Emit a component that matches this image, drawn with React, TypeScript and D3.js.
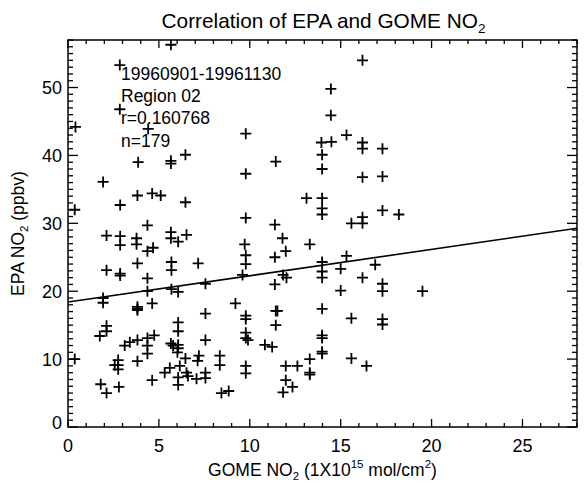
import { useEffect, useRef } from "react";
import * as d3 from "d3";

// ---------------------------------------------------------------------------
// Data (GOME NO2 vs EPA NO2)
// ---------------------------------------------------------------------------

const GOME_X = [
  5.66, 2.85, 2.85, 0.41, 4.41, 3.86, 5.66, 5.66, 6.46, 16.2,
  14.46, 14.46, 9.78, 15.32, 13.94, 14.49, 16.2, 16.2, 17.3, 13.98,
  11.43, 13.98, 9.78, 16.2, 17.3, 1.93, 3.82, 4.63, 5.1, 6.46,
  2.87, 0.37, 13.12, 13.98, 13.98, 13.98, 17.3, 18.2, 4.37, 9.78,
  11.38, 15.59, 16.2, 16.2, 2.12, 2.87, 2.87, 3.77, 3.77, 4.37,
  4.68, 5.66, 5.66, 6.06, 6.52, 11.8, 13.3, 9.72, 9.78, 9.78,
  11.38, 11.98, 2.12, 2.87, 3.82, 4.37, 5.69, 5.69, 7.16, 9.6,
  13.98, 13.98, 13.98, 15.0, 15.32, 16.9, 11.83, 12.02, 11.38, 16.2,
  15.0, 17.3, 17.3, 19.5, 4.37, 5.69, 6.06, 7.56, 1.93, 1.93,
  4.63, 3.82, 3.82, 7.56, 9.21, 6.06, 6.06, 2.12, 2.12, 1.75,
  7.56, 4.74, 4.37, 4.37, 4.37, 3.82, 3.4, 3.12, 5.78, 6.06,
  6.06, 6.02, 0.37, 2.76, 2.76, 2.57, 2.76, 3.82, 6.46, 7.2,
  7.13, 8.35, 8.35, 6.15, 5.6, 5.32, 6.52, 6.6, 6.06, 6.06,
  7.07, 7.56, 7.56, 4.63, 1.8, 2.12, 2.8, 8.44, 9.78, 9.78,
  11.43, 11.52, 11.43, 13.98, 15.59, 17.3, 17.3, 9.78, 9.78, 9.9,
  10.83, 11.23, 13.98, 13.98, 13.98, 13.98, 9.78, 9.78, 11.98, 12.62,
  13.3, 13.3, 13.3, 15.59, 16.42, 11.98, 12.35, 11.83, 8.84, 2.87,
  3.82, 5.66,
];

const EPA_Y = [
  56.3, 53.3, 46.8, 44.2, 43.9, 39.0, 39.2, 38.8, 40.1, 54.0,
  49.8, 45.9, 43.2, 43.0, 41.9, 42.0, 41.9, 41.0, 41.0, 40.1,
  39.1, 38.0, 37.3, 36.8, 36.9, 36.1, 34.1, 34.4, 34.1, 33.1,
  32.7, 32.0, 33.7, 33.7, 32.2, 31.3, 31.9, 31.3, 29.7, 30.8,
  29.8, 30.0, 30.9, 30.0, 28.2, 28.1, 26.8, 27.8, 26.9, 25.9,
  26.4, 28.7, 27.8, 27.3, 28.3, 27.8, 26.9, 26.9, 25.3, 24.0,
  25.0, 25.9, 23.1, 22.3, 24.1, 21.9, 24.3, 23.1, 24.1, 22.4,
  24.3, 22.9, 22.0, 23.3, 25.2, 23.9, 22.4, 22.0, 21.0, 22.0,
  20.1, 21.1, 20.0, 20.0, 20.0, 20.3, 19.9, 21.1, 19.0, 18.3,
  18.2, 17.7, 17.2, 16.7, 18.2, 15.4, 14.1, 14.9, 14.1, 13.4,
  12.8, 13.5, 13.1, 12.0, 10.8, 12.8, 12.5, 12.0, 12.0, 12.1,
  11.6, 11.0, 10.0, 9.85, 9.1, 9.1, 8.5, 9.7, 10.1, 10.5,
  9.75, 10.5, 9.1, 9.0, 8.7, 8.0, 8.0, 7.5, 7.3, 6.2,
  7.1, 8.0, 7.2, 6.9, 6.3, 5.0, 5.9, 5.0, 16.4, 15.9,
  17.1, 17.1, 15.0, 17.4, 16.0, 15.9, 15.1, 13.9, 13.1, 12.8,
  12.1, 11.8, 13.5, 13.1, 11.1, 10.8, 9.0, 7.9, 9.0, 9.0,
  10.0, 8.0, 7.7, 10.1, 9.0, 6.9, 5.9, 5.1, 5.3, 22.6,
  17.4, 12.3,
];

// least-squares fit drawn in the reference
const FIT_INTERCEPT = 18.4;
const FIT_SLOPE = 0.388;

const X_DOMAIN = [0, 28];
const Y_DOMAIN = [0, 57];
const X_MAJOR = [0, 5, 10, 15, 20, 25];
const Y_MAJOR = [0, 10, 20, 30, 40, 50];

const ANNOTATION = ["19960901-19961130", "Region 02", "r=0.160768", "n=179"];

const FONT = "'Liberation Sans', Arial, Helvetica, sans-serif";

export default function App() {
  const svgRef = useRef<SVGSVGElement>(null);

  useEffect(() => {
    const svg = d3.select(svgRef.current);
    svg.selectAll("*").remove();

    const width = 588;
    const height = 486;
    const margin = { left: 68, right: 11, top: 40, bottom: 59 };
    const x0 = margin.left;
    const x1 = width - margin.right;
    const y0 = height - margin.bottom;
    const y1 = margin.top;

    const x = d3.scaleLinear().domain(X_DOMAIN).range([x0, x1]);
    const y = d3.scaleLinear().domain(Y_DOMAIN).range([y0, y1]);

    const g = svg.append("g");

    svg
      .append("defs")
      .append("clipPath")
      .attr("id", "plot-clip")
      .append("rect")
      .attr("x", x0)
      .attr("y", y1)
      .attr("width", x1 - x0)
      .attr("height", y0 - y1);

    // ---- Frame ----
    g.append("rect")
      .attr("x", x0)
      .attr("y", y1)
      .attr("width", x1 - x0)
      .attr("height", y0 - y1)
      .attr("fill", "none")
      .attr("stroke", "#000")
      .attr("stroke-width", 1.5);

    // ---- X ticks (bottom + top) ----
    const xMinor = d3.range(X_DOMAIN[0], X_DOMAIN[1] + 0.001, 1);
    xMinor.forEach((v) => {
      const major = X_MAJOR.includes(v);
      const len = major ? 8 : 4;
      g.append("line")
        .attr("x1", x(v)).attr("x2", x(v))
        .attr("y1", y0).attr("y2", y0 - len)
        .attr("stroke", "#000").attr("stroke-width", 1.3);
      g.append("line")
        .attr("x1", x(v)).attr("x2", x(v))
        .attr("y1", y1).attr("y2", y1 + len)
        .attr("stroke", "#000").attr("stroke-width", 1.3);
    });

    X_MAJOR.forEach((v) => {
      g.append("text")
        .attr("x", x(v))
        .attr("y", y0 + 25)
        .attr("text-anchor", "middle")
        .attr("font-family", FONT)
        .attr("font-size", 18)
        .text(String(v));
    });

    // ---- Y ticks (left + right) ----
    const yMinor = d3.range(Y_DOMAIN[0], Y_DOMAIN[1] + 0.001, 1);
    yMinor.forEach((v) => {
      const major = Y_MAJOR.includes(v);
      const len = major ? 10 : 5;
      g.append("line")
        .attr("x1", x0).attr("x2", x0 + len)
        .attr("y1", y(v)).attr("y2", y(v))
        .attr("stroke", "#000").attr("stroke-width", 1.3);
      g.append("line")
        .attr("x1", x1).attr("x2", x1 - len)
        .attr("y1", y(v)).attr("y2", y(v))
        .attr("stroke", "#000").attr("stroke-width", 1.3);
    });

    Y_MAJOR.forEach((v) => {
      // bottom label sits a little above the corner, as in the original
      const ty = Math.min(y(v), y0 - 5);
      g.append("text")
        .attr("x", x0 - 6)
        .attr("y", ty + 6.5)
        .attr("text-anchor", "end")
        .attr("font-family", FONT)
        .attr("font-size", 18)
        .text(String(v));
    });

    // ---- Points ----
    const plot = g.append("g").attr("clip-path", "url(#plot-clip)");
    const s = 5.5;
    GOME_X.forEach((gx, i) => {
      const px = x(gx);
      const py = y(EPA_Y[i]);
      plot
        .append("path")
        .attr("d", `M${px - s},${py}H${px + s}M${px},${py - s}V${py + s}`)
        .attr("stroke", "#000")
        .attr("stroke-width", 1.8)
        .attr("fill", "none");
    });

    // ---- Fit line ----
    plot
      .append("line")
      .attr("x1", x(X_DOMAIN[0]))
      .attr("y1", y(FIT_INTERCEPT + FIT_SLOPE * X_DOMAIN[0]))
      .attr("x2", x(X_DOMAIN[1]))
      .attr("y2", y(FIT_INTERCEPT + FIT_SLOPE * X_DOMAIN[1]))
      .attr("stroke", "#000")
      .attr("stroke-width", 1.6);

    // ---- Annotation ----
    ANNOTATION.forEach((t, i) => {
      g.append("text")
        .attr("x", 121)
        .attr("y", 80 + i * 22.2)
        .attr("font-family", FONT)
        .attr("font-size", 17.5)
        .text(t);
    });

    // ---- Title ----
    const title = g
      .append("text")
      .attr("x", (x0 + x1) / 2 + 1)
      .attr("y", 28)
      .attr("text-anchor", "middle")
      .attr("font-family", FONT)
      .attr("font-size", 20.8);
    title.append("tspan").text("Correlation of EPA and GOME NO");
    title.append("tspan").attr("dy", 5).attr("font-size", 13.5).text("2");

    // ---- X label ----
    const xl = g
      .append("text")
      .attr("x", (x0 + x1) / 2)
      .attr("y", 476)
      .attr("text-anchor", "middle")
      .attr("font-family", FONT)
      .attr("font-size", 17.5);
    xl.append("tspan").text("GOME NO");
    xl.append("tspan").attr("dy", 4).attr("font-size", 11.5).text("2");
    xl.append("tspan").attr("dy", -4).text(" (1X10");
    xl.append("tspan").attr("dy", -8).attr("font-size", 11.5).text("15");
    xl.append("tspan").attr("dy", 8).text(" mol/cm");
    xl.append("tspan").attr("dy", -8).attr("font-size", 11.5).text("2");
    xl.append("tspan").attr("dy", 8).text(")");

    // ---- Y label ----
    const yl = g
      .append("text")
      .attr("transform", `translate(24,${(y0 + y1) / 2}) rotate(-90)`)
      .attr("text-anchor", "middle")
      .attr("font-family", FONT)
      .attr("font-size", 17.5);
    yl.append("tspan").text("EPA NO");
    yl.append("tspan").attr("dy", 4).attr("font-size", 11.5).text("2");
    yl.append("tspan").attr("dy", -4).text(" (ppbv)");
  }, []);

  return (
    <svg
      ref={svgRef}
      width={588}
      height={486}
      style={{ position: "absolute", left: 0, top: 0, background: "#fff" }}
    />
  );
}
